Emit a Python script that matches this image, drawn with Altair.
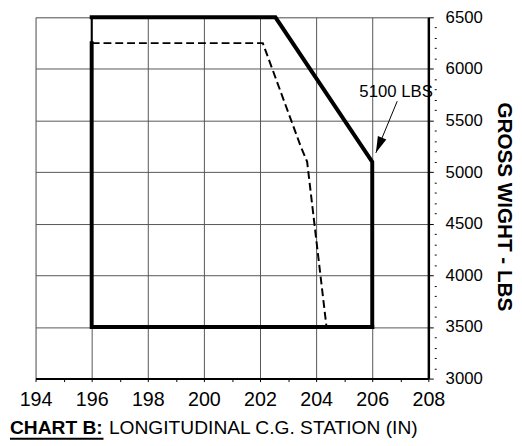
import altair as alt
import pandas as pd

# ---- data ----
x_ticks = list(range(194, 209, 1))          # stations (IN)
y_ticks = list(range(3000, 6501, 100))       # gross weight (LBS)

# envelope (solid, heavy)
env_lower_x = [206, 196, 196]
env_lower_y = [3500, 3500, 6250]
env_upper_x = [196, 202.55, 206, 206]
env_upper_y = [6500, 6500, 5100, 3500]
env_thin_x = [196, 196]
env_thin_y = [6250, 6500]
# dashed envelope
dash_x = [196, 202.1, 203.45, 203.68, 204.37]
dash_y = [6250, 6250, 5250, 5100, 3500]

annot_text = ["5100 LBS"]
annot_x = [206.85]
annot_y = [5773]
arrow_tail_x = [206.89]
arrow_tail_y = [5687]
arrow_tip_x = [206.13]
arrow_tip_y = [5187]

FONT = "Liberation Sans, Arial, sans-serif"

XS = alt.Scale(domain=[194, 208], nice=False, zero=False)
YS = alt.Scale(domain=[3000, 6500], nice=False, zero=False)


def seg(name, xs, ys):
    return pd.DataFrame({"seg": name, "x": xs, "y": ys, "o": range(len(xs))})


df = pd.concat([
    seg("lower", env_lower_x, env_lower_y),
    seg("upper", env_upper_x, env_upper_y),
    seg("thin", env_thin_x, env_thin_y),
    seg("dash", dash_x, dash_y),
])

X = alt.X(
    "x:Q",
    scale=XS,
    axis=alt.Axis(
        values=x_ticks,
        title="LONGITUDINAL C.G. STATION (IN)",
        titleFont=FONT, titleFontSize=19.5, titleFontWeight="normal",
        titleColor="#000", titleAlign="left", titleBaseline="middle",
        titleAnchor="start", titleX=74, titleY=50,
        labelExpr="datum.value % 2 == 0 ? format(datum.value, 'd') : ''",
        labelFont=FONT, labelFontSize=20, labelColor="#000", labelPadding=8,
        labelOverlap=False, labelFlush=False, labelBound=False,
        tickSize=3, tickColor="#000", tickWidth=1,
        domainColor="#000", domainWidth=2,
        grid=True, gridColor="#555", gridWidth=1,
        gridOpacity={"condition": {"test": "datum.value % 2 == 0", "value": 1}, "value": 0},
    ),
)
Y = alt.Y(
    "y:Q",
    scale=YS,
    axis=alt.Axis(
        orient="right",
        values=y_ticks,
        title="GROSS WIGHT - LBS",
        titleFont=FONT, titleFontSize=21, titleFontWeight="bold", titleColor="#000",
        titleAngle=90, titleAlign="center", titleBaseline="middle",
        titleX=76, titleY=192,
        labelExpr="datum.value % 500 == 0 ? format(datum.value, 'd') : ''",
        labelFont=FONT, labelFontSize=17, labelColor="#000", labelPadding=9,
        labelOverlap=False, labelFlush=False, labelBound=False,
        tickSize=8, tickColor="#000", tickWidth=1,
        tickDash={"condition": {"test": "datum.value % 500 == 0", "value": [5, 100]},
                  "value": [0, 6, 2, 100]},
        domainColor="#000", domainWidth=2.5,
        grid=True, gridColor="#555", gridWidth=1,
        gridOpacity={"condition": {"test": "datum.value % 500 == 0", "value": 1}, "value": 0},
    ),
)

base = alt.Chart(df).encode(x=X, y=Y, order="o:Q")

heavy = base.transform_filter(
    "datum.seg === 'lower' || datum.seg === 'upper'"
).mark_line(color="#000", strokeWidth=4, strokeJoin="miter", strokeCap="square").encode(
    detail="seg:N"
)
thin = base.transform_filter("datum.seg === 'thin'").mark_line(color="#000", strokeWidth=2)
dashed = base.transform_filter("datum.seg === 'dash'").mark_line(
    color="#000", strokeWidth=2, strokeDash=[8, 4]
)

text_df = pd.DataFrame({"t": annot_text, "x": annot_x, "y": annot_y})
annot = alt.Chart(text_df).mark_text(
    font=FONT, fontSize=17, color="#000", align="center", baseline="middle"
).encode(x=X, y=Y, text="t:N")

arrow_df = pd.DataFrame({"x": arrow_tail_x, "y": arrow_tail_y,
                         "xe": arrow_tip_x, "ye": arrow_tip_y})
arrow_line = alt.Chart(arrow_df).mark_rule(color="#000", strokeWidth=1).encode(
    x=X, y=Y, x2="xe:Q", y2="ye:Q"
)
tip_df = pd.DataFrame({"x": arrow_tip_x, "y": arrow_tip_y})
arrow_head = alt.Chart(tip_df).mark_point(
    shape="M0,0L-0.28,1L0.28,1Z", filled=True, color="#000", opacity=1,
    size=1100, angle=202.4
).encode(x=X, y=Y)

chart_label = alt.Chart(pd.DataFrame({"t": ["CHART B:"]})).mark_text(
    font=FONT, fontSize=19.5, fontWeight="bold", color="#000", align="left", baseline="middle"
).encode(x=alt.value(-26), y=alt.value(417), text="t:N")
underline = alt.Chart(pd.DataFrame({"t": ["u"]})).mark_rule(color="#000", strokeWidth=2).encode(
    x=alt.value(-26), x2=alt.value(69), y=alt.value(428)
)

chart = alt.layer(
    heavy, thin, dashed, arrow_line, arrow_head, annot, chart_label, underline
).properties(
    width=399, height=367,
    autosize=alt.AutoSizeParams(type="none"),
    padding={"left": 28, "top": 6, "right": 87, "bottom": 65},
).configure_view(stroke="#000", strokeWidth=1.5).configure(background="white")

chart.save("out.html", embed_options={"renderer": "svg", "actions": False})
